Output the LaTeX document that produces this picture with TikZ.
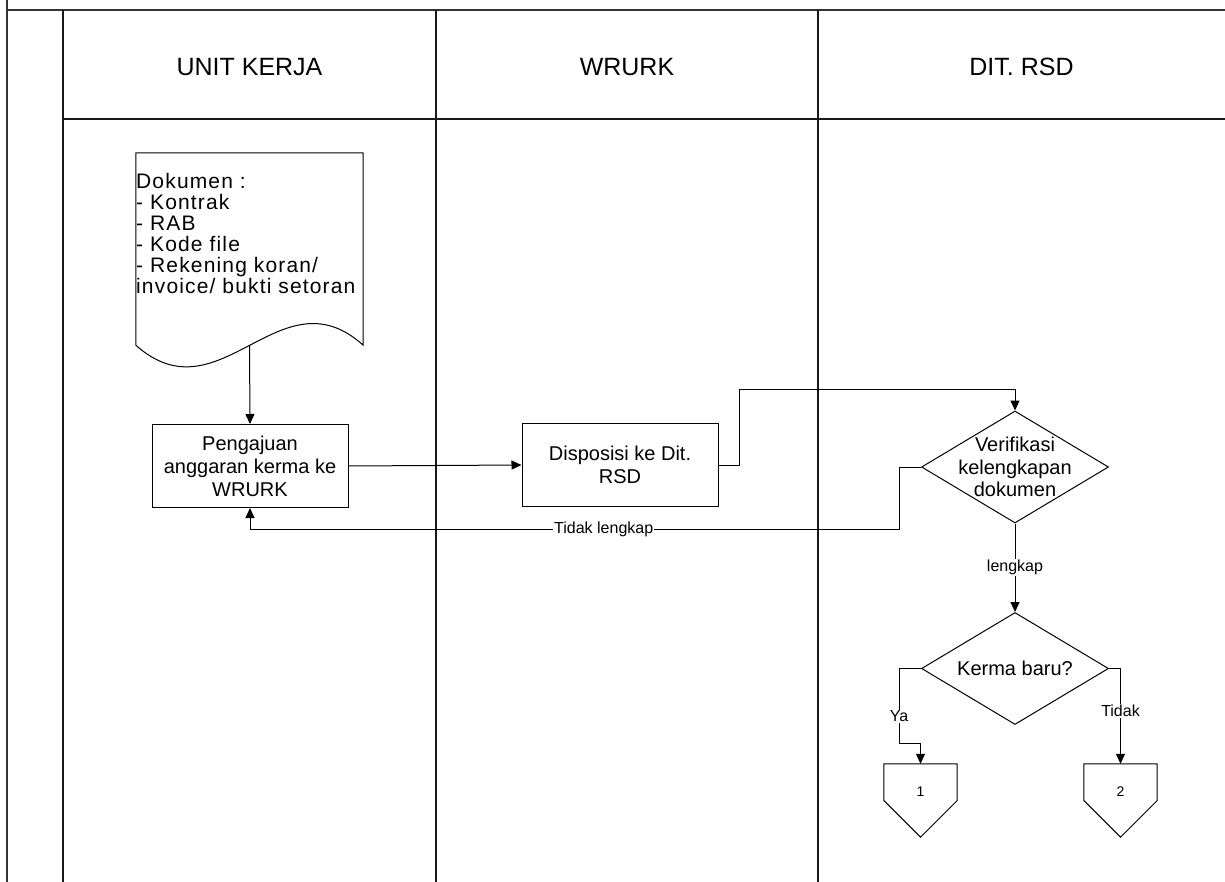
\documentclass[tikz,border=0pt]{standalone}
\usepackage{fontspec}
\setmainfont{Liberation Sans}
\newfontfamily\docfont[LetterSpace=5.5]{Liberation Sans}
\usetikzlibrary{arrows.meta,shapes.geometric,calc}

\begin{document}
\begin{tikzpicture}[x=1pt,y=-1pt,
  frame/.style={draw=black!80, line width=2pt},
  lane/.style={draw=black!90, line width=1.3pt},
  link/.style={draw=black, line width=1pt},
  flow/.style={link, -{Triangle[length=10pt,width=9pt]}},
  head/.style={font=\fontsize{25}{29}\selectfont},
  proc/.style={draw, line width=1pt, minimum width=196pt, minimum height=83pt,
    inner sep=0pt, align=center, font=\fontsize{20}{23}\selectfont},
  decision/.style={draw, diamond, line width=1pt, minimum width=187pt,
    minimum height=112pt, inner sep=0pt},
  dtext/.style={align=center, inner sep=0pt, font=\fontsize{20}{22.5}\selectfont},
  doctext/.style={align=left, inner sep=0pt, font=\docfont\fontsize{21}{21}\selectfont},
  offpage/.style={minimum width=73pt, minimum height=73pt, inner sep=0pt},
  lbl/.style={fill=white, inner sep=1pt, font=\fontsize{16}{18}\selectfont},
]
\useasboundingbox (0,0) rectangle (1225,882);

% swimlane frame
\draw[frame] (7,0) -- (7,882);
\draw[frame] (6,10) -- (1225,10);
\draw[lane] (63,10) -- (63,882);
\draw[lane] (436,10) -- (436,882);
\draw[lane] (818,10) -- (818,882);
\draw[lane] (63,119) -- (1225,119);

% lane headers
\node[head] (h1) at (249.5,67) {UNIT KERJA};
\node[head] (h2) at (627,67) {WRURK};
\node[head] (h3) at (1021.5,67) {DIT. RSD};

% document
\node[minimum width=227pt, minimum height=192pt, inner sep=0pt] (doc) at (249.5,249) {};
\draw[link] (doc.south west) -- (doc.north west) -- (doc.north east) -- (doc.south east)
  .. controls ($(doc.south)+(30.5,-75)$) and ($(doc.south)+(-29.5,75)$) .. (doc.south west);
\node[doctext, anchor=north west] (doctxt) at (136,173.5)
  {Dokumen :\\- Kontrak\\- RAB\\- Kode file\\- Rekening koran/\\invoice/ bukti setoran};

% processes
\node[proc] (peng) at (250,466) {Pengajuan\\anggaran kerma ke\\WRURK};
\node[proc] (disp) at (620,465) {Disposisi ke Dit.\\RSD};

% decisions
\node[decision] (ver) at (1015,467) {};
\node[dtext] (vertxt) at (ver) {Verifikasi\\kelengkapan\\dokumen};
\node[decision] (ker) at (1015,668.5) {};
\node[dtext] (kertxt) at (ker) {Kerma baru?};

% off-page connectors
\node[offpage] (c1) at (920.5,800.5) {};
\node[offpage] (c2) at (1120.5,800.5) {};
\draw[link] (c1.north west) -- (c1.north east) -- (c1.east) -- (c1.south) -- (c1.west) -- cycle;
\draw[link] (c2.north west) -- (c2.north east) -- (c2.east) -- (c2.south) -- (c2.west) -- cycle;
\node[font=\fontsize{14}{16}\selectfont] (c1t) at ([yshift=9pt]c1) {1};
\node[font=\fontsize{14}{16}\selectfont] (c2t) at ([yshift=9pt]c2) {2};

% connectors
\coordinate (up) at (739,389);
\coordinate (back) at (899,529);
\coordinate (yabend) at (899,743);

\draw[flow] (doc.south) -- (peng.north);
\draw[flow] (peng.east) -- (disp.west);
\draw[flow] (disp.east) -| (up) -| (ver.north);
\draw[flow] (ver.west) -| (back) -- node[lbl, pos=0.455] {Tidak lengkap} (peng.south |- back) -- (peng.south);
\draw[flow] (ver.south) -- node[lbl] {lengkap} (ker.north);
\draw[flow] (ker.west) -| (yabend) node[lbl, pos=0.82] {Ya} -| (c1.north);
\draw[flow] (ker.east) -| node[lbl, pos=0.724] {Tidak} (c2.north);
\end{tikzpicture}
\end{document}
